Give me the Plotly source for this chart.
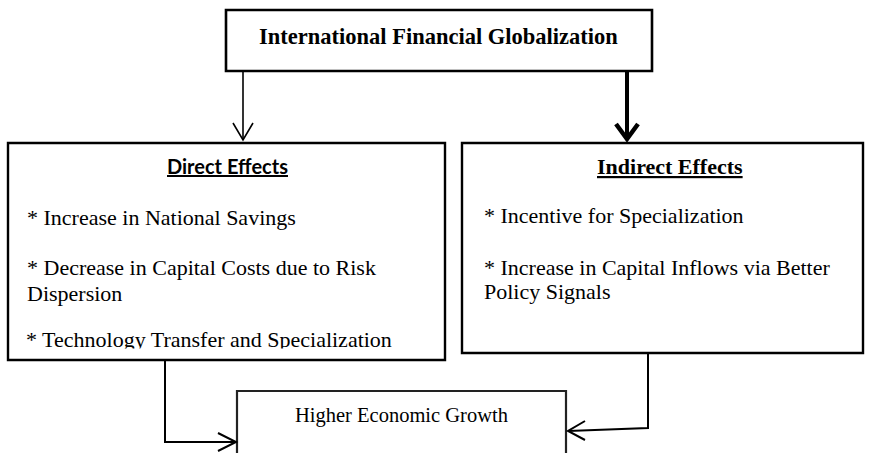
import plotly.graph_objects as go

W, H = 871, 453

title_text = "International Financial Globalization"
direct_title = "Direct Effects"
direct_items = ["* Increase in National Savings",
                "* Decrease in Capital Costs due to Risk",
                "Dispersion",
                "* Technology Transfer and Specialization"]
indirect_title = "Indirect Effects"
indirect_items = ["* Incentive for Specialization",
                  "* Increase in Capital Inflows via Better",
                  "Policy Signals"]
outcome_text = "Higher Economic Growth"

SERIF = "Liberation Serif"
fig = go.Figure()
shapes = []
ann = []

def rect(x0, y0, x1, y1, w=2.2, color="black", fill="rgba(0,0,0,0)"):
    shapes.append(dict(type="rect", x0=x0, y0=y0, x1=x1, y1=y1,
                       line=dict(color=color, width=w), fillcolor=fill, layer="above"))

def path(d, w=1.8, fill=None):
    s = dict(type="path", path=d, line=dict(color="black", width=w), layer="above")
    if fill:
        s["fillcolor"] = fill
    shapes.append(s)

def text(x, y, t, size=22, anchor="left", family=SERIF, bold=False):
    if bold:
        t = "<b>" + t + "</b>"
    ann.append(dict(x=x, y=y, text=t, showarrow=False, xanchor=anchor, yanchor="middle",
                    font=dict(family=family, size=size, color="black")))

# mask that clips the last bullet line of the left box
rect(10, 348.5, 443, 359, w=0, color="white", fill="white")

# boxes
rect(226, 10, 652, 71, w=2.6)
rect(8, 143, 445, 360, w=2.4)
rect(462, 143, 863, 353, w=2.4)
rect(237, 391, 566, 470, w=2.2, color="#222")

# arrows from top box
path("M 243 71 L 243 139", w=1.6)
path("M 233 123 L 243 140 L 253 123", w=1.6)
path("M 627 71 L 627 136", w=4)
path("M 616 124 L 627 139 L 638 124", w=4.5)

# connectors to bottom box
path("M 165 360 L 165 442 L 236 442", w=2)
path("M 218 433 L 236 442 L 218 451", w=2)
path("M 648 353 L 648 428 L 568 431", w=2)
path("M 585 421 L 568 431 L 585 440", w=2)

# texts
text(438, 36, title_text, size=22.5, anchor="center", bold=True)
text(227, 166, "<u>" + direct_title + "</u>", size=20, anchor="center", family="Lato", bold=True)
ys = [217, 267, 293]
for t, y in zip(direct_items[:3], ys):
    text(25, y, t, size=22)
# last (clipped) line drawn as trace text so the mask can cover its descenders
fig.add_trace(go.Scatter(x=[26], y=[341], mode="text", text=[direct_items[3]],
                         textposition="middle right",
                         textfont=dict(family=SERIF, size=22, color="black"),
                         hoverinfo="skip"))
text(670, 166, "<u>" + indirect_title + "</u>", size=22, anchor="center", bold=True)
ys2 = [215, 267, 291]
for t, y in zip(indirect_items, ys2):
    text(482, y, t, size=22)
text(401, 415, outcome_text, size=20.5, anchor="center")

fig.update_layout(
    width=W, height=H, margin=dict(l=0, r=0, t=0, b=0),
    paper_bgcolor="white", plot_bgcolor="white",
    xaxis=dict(range=[0, W], visible=False, fixedrange=True),
    yaxis=dict(range=[H, 0], visible=False, fixedrange=True),
    shapes=shapes, annotations=ann, showlegend=False,
)
fig.write_html("out.html", config={"displayModeBar": False})

with open("out.html", encoding="utf-8") as f:
    html = f.read()
html = html.replace("<body>", '<body style="margin:0;overflow:hidden">', 1)
with open("out.html", "w", encoding="utf-8") as f:
    f.write(html)
